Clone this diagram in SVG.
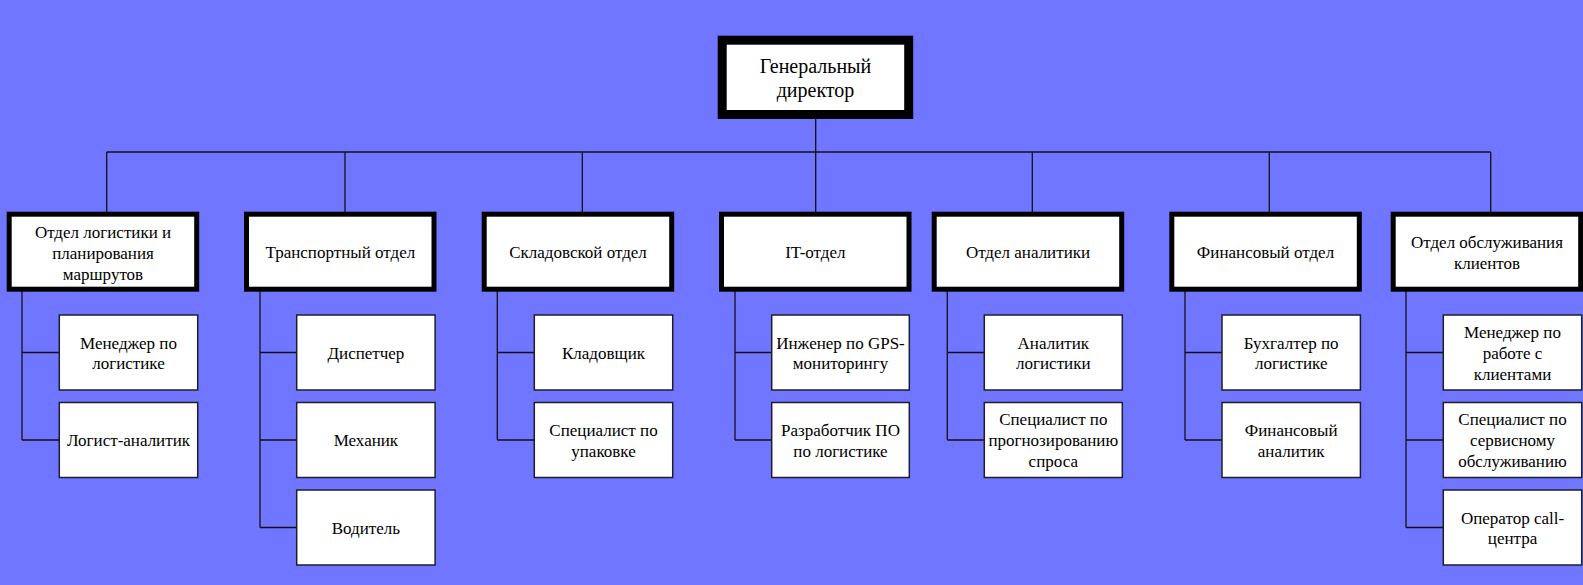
<svg xmlns="http://www.w3.org/2000/svg" width="1583" height="585" viewBox="0 0 1583 585" font-family="'Liberation Serif', 'DejaVu Serif', serif">
<style>
.bg{fill:#7076ff}
.top{fill:#fff;stroke:#000;stroke-width:9}
.dept{fill:#fff;stroke:#000;stroke-width:5}
.pos{fill:#fff;stroke:#1e1e2a;stroke-width:1.5}
.conn line{stroke:#111;stroke-width:1.3}
text{font-family:'Liberation Serif', serif;fill:#000;text-anchor:middle;font-size:17px}
.tt{font-size:20px}
</style>
<rect class="bg" x="0" y="0" width="1583" height="585"/>
<g id="connectors" class="conn">
<line x1="815.7" y1="118" x2="815.7" y2="152"/>
<line x1="106.7" y1="152" x2="1490.7" y2="152"/>
<line x1="106.7" y1="152" x2="106.7" y2="212"/>
<line x1="345" y1="152" x2="345" y2="212"/>
<line x1="582.3" y1="152" x2="582.3" y2="212"/>
<line x1="815.7" y1="152" x2="815.7" y2="212"/>
<line x1="1032.3" y1="152" x2="1032.3" y2="212"/>
<line x1="1269.3" y1="152" x2="1269.3" y2="212"/>
<line x1="1490.7" y1="152" x2="1490.7" y2="212"/>
<line x1="22" y1="291" x2="22" y2="440"/>
<line x1="22" y1="352.5" x2="59.3" y2="352.5"/>
<line x1="22" y1="440" x2="59.3" y2="440"/>
<line x1="260" y1="291" x2="260" y2="527.5"/>
<line x1="260" y1="352.5" x2="296.7" y2="352.5"/>
<line x1="260" y1="440" x2="296.7" y2="440"/>
<line x1="260" y1="527.5" x2="296.7" y2="527.5"/>
<line x1="497.3" y1="291" x2="497.3" y2="440"/>
<line x1="497.3" y1="352.5" x2="534.3" y2="352.5"/>
<line x1="497.3" y1="440" x2="534.3" y2="440"/>
<line x1="735" y1="291" x2="735" y2="440"/>
<line x1="735" y1="352.5" x2="771.7" y2="352.5"/>
<line x1="735" y1="440" x2="771.7" y2="440"/>
<line x1="947.3" y1="291" x2="947.3" y2="440"/>
<line x1="947.3" y1="352.5" x2="984.3" y2="352.5"/>
<line x1="947.3" y1="440" x2="984.3" y2="440"/>
<line x1="1185" y1="291" x2="1185" y2="440"/>
<line x1="1185" y1="352.5" x2="1222" y2="352.5"/>
<line x1="1185" y1="440" x2="1222" y2="440"/>
<line x1="1406" y1="291" x2="1406" y2="527.5"/>
<line x1="1406" y1="352.5" x2="1443.3" y2="352.5"/>
<line x1="1406" y1="440" x2="1443.3" y2="440"/>
<line x1="1406" y1="527.5" x2="1443.3" y2="527.5"/>
</g>
<g id="ceo">
<rect class="top" x="722.2" y="40.2" width="186.5" height="74.3"/>
<text class="tt" x="815.5" y="73">Генеральный</text>
<text class="tt" x="815.5" y="97">директор</text>
</g>
<g id="d1">
<rect class="dept" x="9.2" y="214.2" width="187.5" height="75"/>
<text x="103" y="237.5">Отдел логистики и</text>
<text x="103" y="258.5">планирования</text>
<text x="103" y="279.5">маршрутов</text>
</g>
<g id="d2">
<rect class="dept" x="246.5" y="214.2" width="187.5" height="75"/>
<text x="340.3" y="258.2">Транспортный отдел</text>
</g>
<g id="d3">
<rect class="dept" x="484.2" y="214.2" width="187.5" height="75"/>
<text x="578" y="258.2">Складовской отдел</text>
</g>
<g id="d4">
<rect class="dept" x="721.5" y="214.2" width="187.5" height="75"/>
<text x="815.3" y="258.2">IT-отдел</text>
</g>
<g id="d5">
<rect class="dept" x="934.2" y="214.2" width="187.5" height="75"/>
<text x="1028" y="258.2">Отдел аналитики</text>
</g>
<g id="d6">
<rect class="dept" x="1171.8" y="214.2" width="187.5" height="75"/>
<text x="1265.5" y="258.2">Финансовый отдел</text>
</g>
<g id="d7">
<rect class="dept" x="1393.2" y="214.2" width="187.5" height="75"/>
<text x="1487" y="247.5">Отдел обслуживания</text>
<text x="1487" y="268.5">клиентов</text>
</g>
<g id="d1c1"><rect class="pos" x="59.3" y="315" width="138.4" height="75"/><text x="128.5" y="348.5">Менеджер по</text><text x="128.5" y="369.2">логистике</text></g>
<g id="d1c2"><rect class="pos" x="59.3" y="402.5" width="138.4" height="75"/><text x="128.5" y="446">Логист-аналитик</text></g>
<g id="d2c1"><rect class="pos" x="296.7" y="315" width="138.4" height="75"/><text x="365.9" y="358.5">Диспетчер</text></g>
<g id="d2c2"><rect class="pos" x="296.7" y="402.5" width="138.4" height="75"/><text x="365.9" y="446">Механик</text></g>
<g id="d2c3"><rect class="pos" x="296.7" y="490" width="138.4" height="75"/><text x="365.9" y="533.5">Водитель</text></g>
<g id="d3c1"><rect class="pos" x="534.3" y="315" width="138.4" height="75"/><text x="603.5" y="358.5">Кладовщик</text></g>
<g id="d3c2"><rect class="pos" x="534.3" y="402.5" width="138.4" height="75"/><text x="603.5" y="436">Специалист по</text><text x="603.5" y="456.7">упаковке</text></g>
<g id="d4c1"><rect class="pos" x="771.7" y="315" width="137.6" height="75"/><text x="840.5" y="348.5">Инженер по GPS-</text><text x="840.5" y="369.2">мониторингу</text></g>
<g id="d4c2"><rect class="pos" x="771.7" y="402.5" width="137.6" height="75"/><text x="840.5" y="436">Разработчик ПО</text><text x="840.5" y="456.7">по логистике</text></g>
<g id="d5c1"><rect class="pos" x="984.3" y="315" width="138" height="75"/><text x="1053.3" y="348.5">Аналитик</text><text x="1053.3" y="369.2">логистики</text></g>
<g id="d5c2"><rect class="pos" x="984.3" y="402.5" width="138" height="75"/><text x="1053.3" y="425">Специалист по</text><text x="1053.3" y="446">прогнозированию</text><text x="1053.3" y="467">спроса</text></g>
<g id="d6c1"><rect class="pos" x="1222" y="315" width="138.4" height="75"/><text x="1291.2" y="348.5">Бухгалтер по</text><text x="1291.2" y="369.2">логистике</text></g>
<g id="d6c2"><rect class="pos" x="1222" y="402.5" width="138.4" height="75"/><text x="1291.2" y="436">Финансовый</text><text x="1291.2" y="456.7">аналитик</text></g>
<g id="d7c1"><rect class="pos" x="1443.3" y="315" width="138.4" height="75"/><text x="1512.5" y="337.5">Менеджер по</text><text x="1512.5" y="358.5">работе с</text><text x="1512.5" y="379.5">клиентами</text></g>
<g id="d7c2"><rect class="pos" x="1443.3" y="402.5" width="138.4" height="75"/><text x="1512.5" y="425">Специалист по</text><text x="1512.5" y="446">сервисному</text><text x="1512.5" y="467">обслуживанию</text></g>
<g id="d7c3"><rect class="pos" x="1443.3" y="490" width="138.4" height="75"/><text x="1512.5" y="523.5">Оператор call-</text><text x="1512.5" y="544.2">центра</text></g>
</svg>
